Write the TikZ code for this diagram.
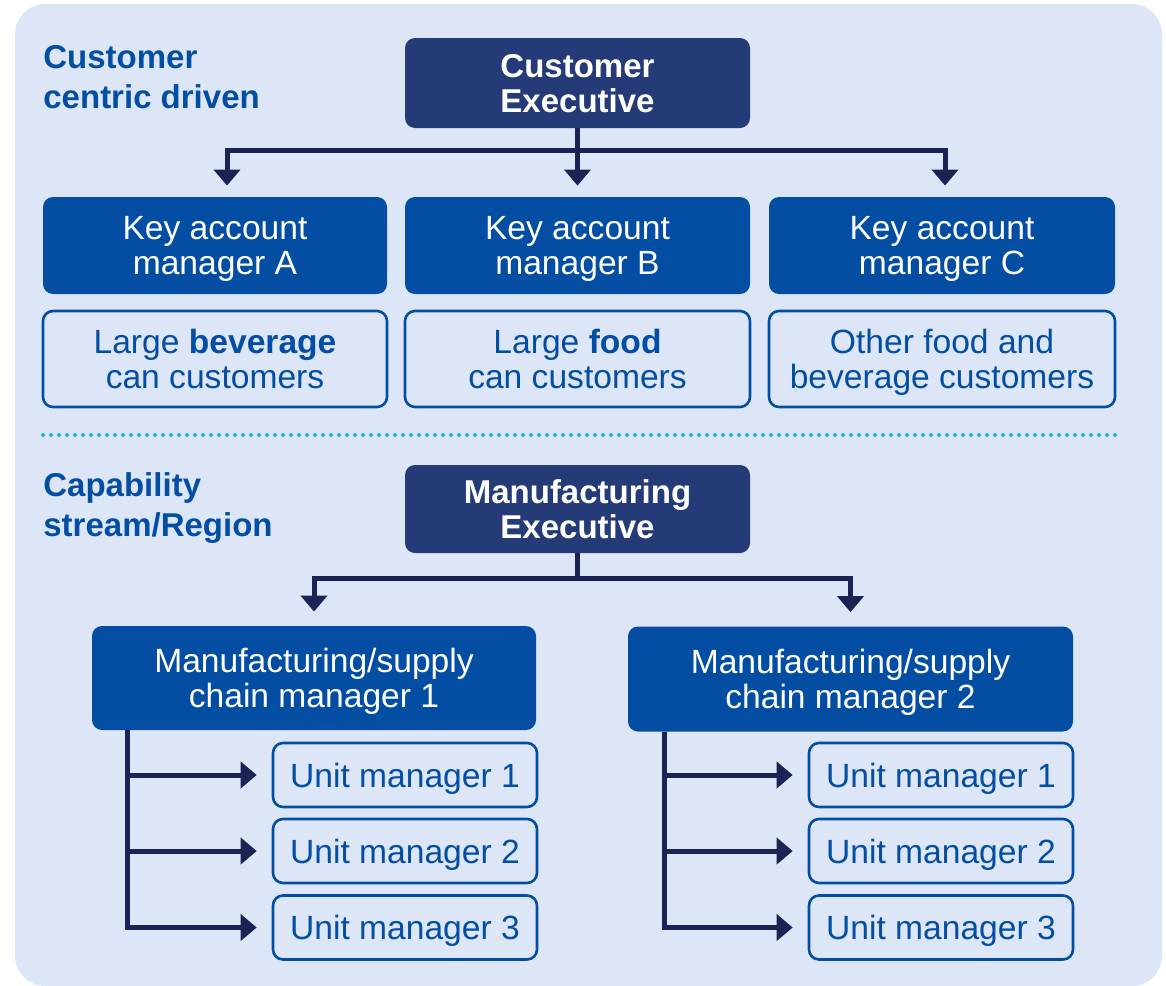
\documentclass[tikz,border=0pt]{standalone}
\usepackage{fontspec}
\setmainfont{Liberation Sans}
\usetikzlibrary{arrows.meta}
\definecolor{paleblue}{HTML}{DDE6F7}
\definecolor{navy}{HTML}{243B77}
\definecolor{mainblue}{HTML}{034EA2}
\definecolor{linknavy}{HTML}{1B2254}
\definecolor{dotblue}{HTML}{29ABE2}
\tikzset{>={Triangle[width=13pt,length=8pt]}}
\tikzset{
  boxtext/.style={font=\fontsize{16.8}{17.5}\selectfont, align=center, inner sep=0pt, text depth=0pt},
  exec/.style={boxtext, rectangle, rounded corners=5pt, fill=navy, text=white,
    font=\bfseries\fontsize{16.5}{17.5}\selectfont, minimum width=172.5pt, minimum height=45pt},
  mgr/.style={boxtext, rectangle, rounded corners=5pt, fill=mainblue, text=white, minimum height=48.5pt},
  seg/.style={boxtext, rectangle, rounded corners=5pt, draw=mainblue, line width=1.3pt,
    text=mainblue, minimum height=48pt},
  unit/.style={seg, minimum width=132pt, minimum height=32pt},
  heading/.style={anchor=north west, inner sep=0pt, align=left, text=mainblue,
    font=\bfseries\fontsize{16.5}{20}\selectfont},
  link/.style={draw=linknavy, line width=2.5pt},
  arr/.style={link, ->, shorten >=5.5pt}
}
\begin{document}
\begin{tikzpicture}[x=0.5pt,y=-0.5pt]
\useasboundingbox (0,0) rectangle (1166,985);
\fill[paleblue, rounded corners=15pt] (15,4) rectangle (1162,986);

% section headings
\node[heading] (custhead) at (43,45) {Customer\\centric driven};
\node[heading] (caphead) at (43,472) {Capability\\stream/Region};

% customer side
\node[exec] (custexec) at (577.5,83) {Customer\\Executive};
\node[mgr, minimum width=172pt] (kamA) at (215,245.5) {Key account\\manager A};
\node[mgr, minimum width=172.5pt] (kamB) at (577.5,245.5) {Key account\\manager B};
\node[mgr, minimum width=173pt] (kamC) at (942,245.5) {Key account\\manager C};
\node[seg, minimum width=172pt] (segA) at (215,359) {Large \textbf{beverage}\\can customers};
\node[seg, minimum width=172.5pt] (segB) at (577.5,359) {Large \textbf{food}\\can customers};
\node[seg, minimum width=173pt] (segC) at (942,359) {Other food and\\beverage customers};

\draw[arr] (custexec.south) -- ++(0,22) -| ([xshift=6pt]kamA.north);
\draw[arr] (custexec.south) -- (kamB.north);
\draw[arr] (custexec.south) -- ++(0,22) -| ([xshift=1.5pt]kamC.north);

% divider
\draw[dotblue, line width=2pt, line cap=round, dash pattern=on 0pt off 4pt] (43,435) -- (1115,435);

% manufacturing side
\node[exec, minimum height=44pt] (mfgexec) at (577.5,509) {Manufacturing\\Executive};
\node[mgr, minimum width=222pt, minimum height=52pt] (mgrA) at (314,678) {Manufacturing/supply\\chain manager 1};
\node[mgr, minimum width=222.5pt, minimum height=52.5pt] (mgrB) at (850.5,679) {Manufacturing/supply\\chain manager 2};

\draw[arr, shorten >=7pt] (mfgexec.south) -- ++(0,25) -| (mgrA.north);
\draw[arr, shorten >=7pt] (mfgexec.south) -- ++(0,25) -| (mgrB.north);

\foreach \i/\y in {1/775,2/851,3/927.5} {
  \node[unit] (unitA\i) at (405,\y) {Unit manager \i};
  \node[unit] (unitB\i) at (941,\y) {Unit manager \i};
  \draw[arr, shorten >=7.5pt] ([xshift=18pt]mgrA.south west) |- (unitA\i.west);
  \draw[arr, shorten >=7.5pt] ([xshift=18.5pt]mgrB.south west) |- (unitB\i.west);
}
\end{tikzpicture}
\end{document}
